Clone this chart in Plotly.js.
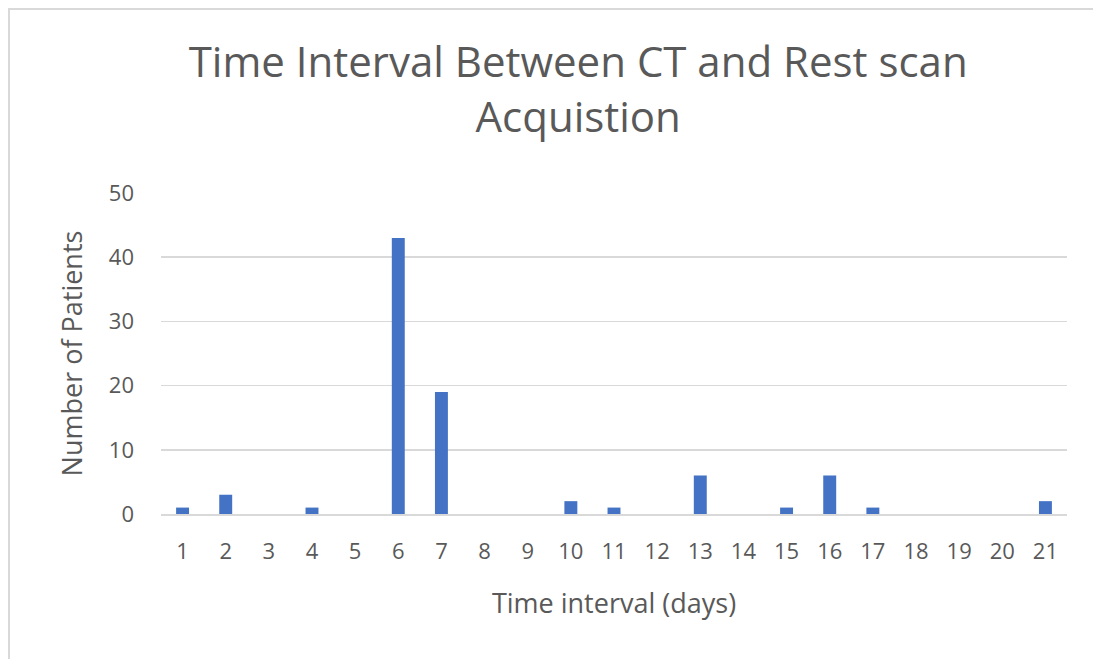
<!DOCTYPE html>
<html>
<head>
<meta charset="utf-8">
<script src="https://cdn.plot.ly/plotly-3.0.1.min.js"></script>
<style>
  html, body { margin: 0; padding: 0; background: #fff; }
  #wrap { position: relative; width: 1093px; height: 659px; overflow: hidden; }
  #chart { position: absolute; left: 0; top: 0; width: 1093px; height: 659px; }
  #frame { position: absolute; left: 8px; top: 8px; width: 1200px; height: 700px;
           border-left: 2px solid #d9d9d9; border-top: 2px solid #d9d9d9; pointer-events: none; }
</style>
</head>
<body>
<div id="wrap">
  <div id="chart"></div>
  <div id="frame"></div>
</div>
<script>
const days = ['1','2','3','4','5','6','7','8','9','10','11','12','13','14','15','16','17','18','19','20','21'];
const patients = [1, 3, 0, 1, 0, 43, 19, 0, 0, 2, 1, 0, 6, 0, 1, 6, 1, 0, 0, 0, 2];
const yTicks = [0, 10, 20, 30, 40, 50];

const font = '"Open Sans", "Noto Sans", sans-serif';
const gray = '#595959';

const trace = {
  type: 'bar',
  x: days,
  y: patients,
  width: 0.3,
  marker: { color: '#4472C4' },
  hoverinfo: 'x+y'
};

const layout = {
  width: 1093,
  height: 659,
  margin: { l: 161, r: 26, t: 193, b: 145 },
  paper_bgcolor: '#ffffff',
  plot_bgcolor: '#ffffff',
  showlegend: false,
  font: { family: font, color: gray },
  title: {
    text: 'Time Interval Between CT and Rest scan<br>Acquistion',
    font: { family: font, size: 42, color: gray },
    xref: 'container', x: 0.529, xanchor: 'center',
    yref: 'container', y: 0.883, yanchor: 'top'
  },
  xaxis: {
    type: 'category',
    tickfont: { size: 22, color: gray },
    ticks: '',
    ticklabelstandoff: 17,
    showgrid: false,
    showline: true,
    linecolor: '#d9d9d9',
    linewidth: 2,
    title: { text: 'Time interval (days)', font: { size: 27, color: gray }, standoff: 30 }
  },
  yaxis: {
    range: [0, 50],
    tickvals: yTicks,
    ticktext: yTicks.map(String),
    tickfont: { size: 22, color: gray },
    ticks: '',
    ticklabelstandoff: 26,
    showgrid: true,
    gridcolor: '#d9d9d9',
    gridwidth: 1.5,
    zeroline: false,
    showline: false,
    title: { text: 'Number of Patients', font: { size: 27, color: gray }, standoff: 18 }
  }
};

Plotly.newPlot('chart', [trace], layout, { displayModeBar: false, staticPlot: true });
</script>
</body>
</html>
